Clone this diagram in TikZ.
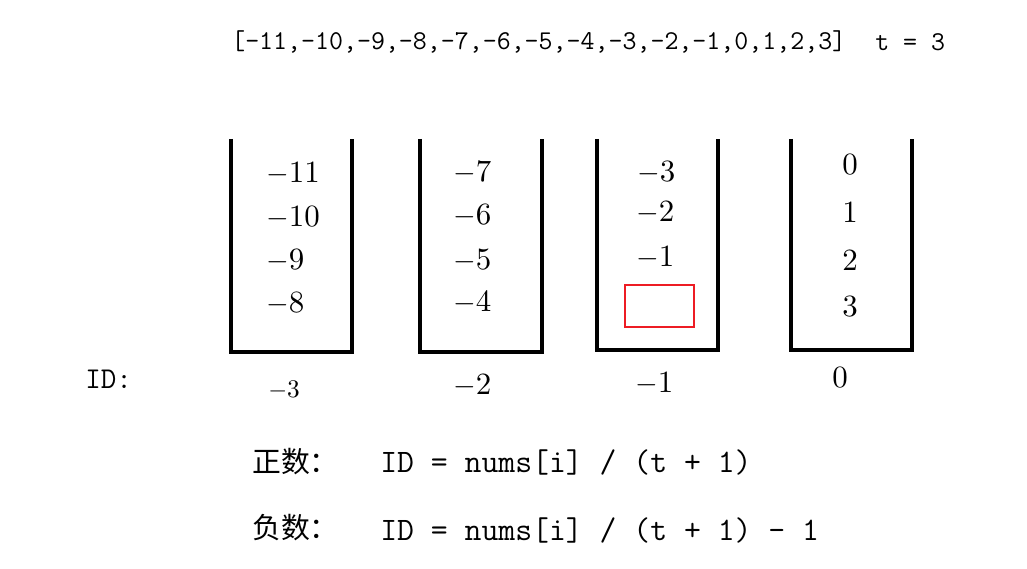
\documentclass[tikz,border=0pt]{standalone}
\usepackage{fontspec}
\newfontfamily\cjk{Noto Sans CJK SC}
\newfontfamily\numfont{lmroman10-regular.otf}
\usetikzlibrary{positioning}
\newcommand{\bucket}[3]{
  \draw[bucketLine] (#1,139) -- (#1,#3) -- (#2,#3) -- (#2,139);
}
\tikzset{
  bucketLine/.style = {
    line width=2.3pt,
  },
  num/.style = {
    inner sep=0pt,
    font=\numfont\fontsize{22}{26}\selectfont,
  },
  smallNum/.style = {
    inner sep=0pt,
    font=\numfont\fontsize{18}{21}\selectfont,
  },
  topText/.style = {
    inner sep=0pt,
    font=\ttfamily\fontsize{19.3}{22}\selectfont,
  },
  formula/.style = {
    inner sep=0pt,
    font=\ttfamily\fontsize{23.3}{27}\selectfont,
  },
  label/.style = {
    inner sep=0pt,
    font=\cjk\fontsize{20.5}{24}\selectfont,
  },
  gap/.style = {
    draw={rgb,255:red,237;green,28;blue,36}, line width=2.1pt,
  },
}

\begin{document}
\begin{tikzpicture}[x=0.025cm, y=-0.025cm]
\useasboundingbox (0,0) rectangle (1027,569);

\node[topText, anchor=west] (list) at (231,42)
  {[-11,-10,-9,-8,-7,-6,-5,-4,-3,-2,-1,0,1,2,3]};
\node[topText, anchor=west] (target) at (875,42) {t = 3};

\bucket{231}{352}{352}
\bucket{420}{542}{352}
\bucket{597}{718}{350}
\bucket{791}{912}{350}

% bucket -3
\node[num, anchor=west] (m11) at (266,173) {$-$11};
\node[num, anchor=west] (m10) at (266,217) {$-$10};
\node[num, anchor=west] (m9) at (266,260) {$-$9};
\node[num, anchor=west] (m8) at (266,303) {$-$8};

% bucket -2
\node[num, anchor=west] (m7) at (453,172) {$-$7};
\node[num, anchor=west] (m6) at (453,215) {$-$6};
\node[num, anchor=west] (m5) at (453,260) {$-$5};
\node[num, anchor=west] (m4) at (453,302) {$-$4};

% bucket -1
\node[num, anchor=west] (m3) at (637,172) {$-$3};
\node[num, anchor=west] (m2) at (636,212) {$-$2};
\node[num, anchor=west] (m1) at (636,257) {$-$1};
\draw[gap] (625,285) rectangle (694,327);

% bucket 0
\node[num] (p0) at (850,165) {0};
\node[num] (p1) at (850,212) {1};
\node[num] (p2) at (850,260) {2};
\node[num] (p3) at (850,307) {3};

\node[formula, font=\ttfamily\fontsize{21.5}{25}\selectfont, anchor=west] (id) at (85,379) {ID:};
\node[smallNum, anchor=west] (idA) at (268,390) {$-$3};
\node[num, anchor=west] (idB) at (453,385) {$-$2};
\node[num, anchor=west] (idC) at (635,383) {$-$1};
\node[num] (idD) at (840,378) {0};

\node[label, anchor=west] (pos) at (252,462) {正数：};
\node[formula, anchor=west] (posRule) at (380,462) {ID = nums[i] / (t + 1)};
\node[label, anchor=west] (neg) at (252,528) {负数：};
\node[formula, anchor=west] (negRule) at (380,530) {ID = nums[i] / (t + 1) - 1};

\end{tikzpicture}
\end{document}
